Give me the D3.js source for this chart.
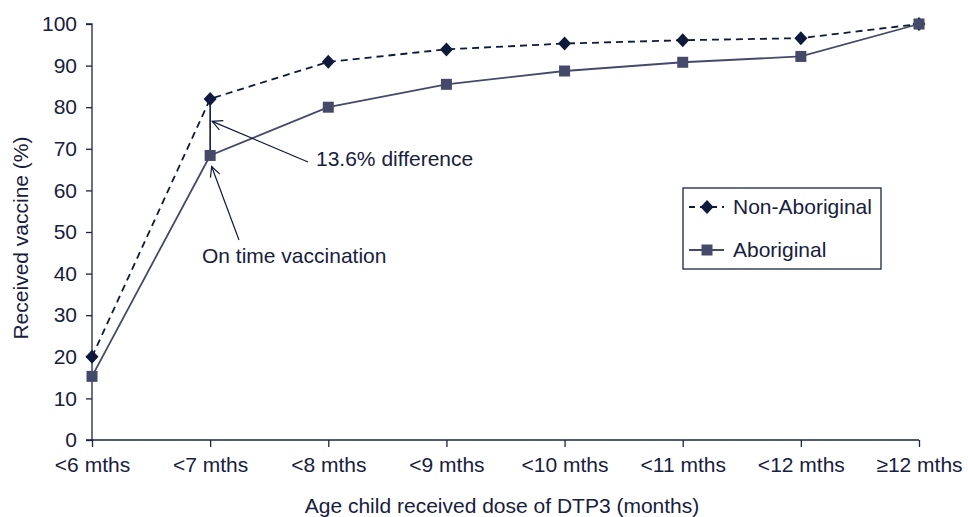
<!DOCTYPE html>
<html><head><meta charset="utf-8">
<script src="https://cdn.jsdelivr.net/npm/d3@7"></script>
<style>body{margin:0;background:#fff}svg{display:block}text{font-family:"Liberation Sans",Arial,sans-serif;fill:#17203d}</style>
</head><body><div id="chart"></div>
<script>
const categories = ["<6 mths","<7 mths","<8 mths","<9 mths","<10 mths","<11 mths","<12 mths","\u226512 mths"];
const nonAboriginal = [20.0, 82.0, 90.9, 93.9, 95.3, 96.1, 96.6, 100];
const aboriginal = [15.3, 68.4, 80.0, 85.5, 88.7, 90.8, 92.2, 100];
const yTicks = [0,10,20,30,40,50,60,70,80,90,100];

const W = 968, H = 517;
const m = {left: 92, right: 49, top: 24, bottom: 77};
const FS = "21px";
const svg = d3.select("#chart").append("svg").attr("width", W).attr("height", H);
const x = d3.scalePoint().domain(categories).range([m.left, W - m.right]);
const y = d3.scaleLinear().domain([0, 100]).range([H - m.bottom, m.top]);
const navy = "#0e1a3c", grey = "#454a6a", axisC = "#1a2545";

const defs = svg.append("defs");
defs.append("marker").attr("id","arr").attr("viewBox","0 0 12 12").attr("refX",11).attr("refY",6)
  .attr("markerWidth",12).attr("markerHeight",12).attr("markerUnits","userSpaceOnUse").attr("orient","auto")
  .append("path").attr("d","M1,1 L11,6 L1,11").attr("fill","none").attr("stroke",navy).attr("stroke-width",1.2);

// axes
const yAxis = svg.append("g").attr("transform",`translate(${m.left},0)`)
  .call(d3.axisLeft(y).tickValues(yTicks).tickSize(6).tickPadding(9));
const xAxis = svg.append("g").attr("transform",`translate(0,${H - m.bottom})`)
  .call(d3.axisBottom(x).tickSize(7).tickPadding(10).tickSizeOuter(0));
[yAxis, xAxis].forEach(g => {
  g.select(".domain").attr("stroke", axisC).attr("stroke-width", 1.3);
  g.selectAll(".tick line").attr("stroke", axisC).attr("stroke-width", 1.3);
  g.selectAll(".tick text").attr("fill", "#17203d").style("font-size", FS).style("font-family", '"Liberation Sans",Arial,sans-serif');
});
yAxis.select(".domain").attr("d", `M-6,${y(0)}H0V${y(100)}H-6`);
xAxis.select(".domain").attr("d", `M${m.left},0H${W - m.right}`);

// axis titles
svg.append("text").attr("transform",`translate(28,${(y(0)+y(100))/2 + 6}) rotate(-90)`).attr("text-anchor","middle")
  .style("font-size",FS).text("Received vaccine (%)");
svg.append("text").attr("x", 502).attr("y", 513).attr("text-anchor","middle")
  .style("font-size",FS).text("Age child received dose of DTP3 (months)");

// lines
const line = d3.line().x((d,i)=>x(categories[i])).y(d=>y(d));
svg.append("path").datum(aboriginal).attr("d", line).attr("fill","none").attr("stroke", grey).attr("stroke-width",1.8);
svg.append("path").datum(nonAboriginal).attr("d", line).attr("fill","none").attr("stroke", navy).attr("stroke-width",1.8).attr("stroke-dasharray","7,5");

// difference line
svg.append("line").attr("x1", x(categories[1])).attr("x2", x(categories[1]))
  .attr("y1", y(nonAboriginal[1])).attr("y2", y(aboriginal[1])).attr("stroke", navy).attr("stroke-width",1.6);

const diamondPath = "M0,-7L6.5,0L0,7L-6.5,0Z";
svg.selectAll(".dm").data(nonAboriginal).enter().append("path")
  .attr("d", diamondPath).attr("transform",(d,i)=>`translate(${x(categories[i])},${y(d)})`).attr("fill",navy);
svg.selectAll(".sq").data(aboriginal).enter().append("rect")
  .attr("x",(d,i)=>x(categories[i])-5.5).attr("y",d=>y(d)-5.5).attr("width",11).attr("height",11).attr("fill",grey);

// annotations
const cx = x(categories[1]);
svg.append("line").attr("x1",308).attr("y1",162).attr("x2",cx+2).attr("y2",y(nonAboriginal[1]-5.4))
  .attr("stroke",navy).attr("stroke-width",1.2).attr("marker-end","url(#arr)");
svg.append("text").attr("x",316).attr("y",166).style("font-size",FS).text("13.6% difference");
svg.append("line").attr("x1",239).attr("y1",240).attr("x2",cx+1.5).attr("y2",y(aboriginal[1])+11)
  .attr("stroke",navy).attr("stroke-width",1.2).attr("marker-end","url(#arr)");
svg.append("text").attr("x",202).attr("y",263).style("font-size",FS).text("On time vaccination");

// legend
const lg = svg.append("g");
lg.append("rect").attr("x",683).attr("y",188).attr("width",198).attr("height",81).attr("fill","#fff").attr("stroke",axisC).attr("stroke-width",1.3);
lg.append("line").attr("x1",689).attr("x2",724).attr("y1",207).attr("y2",207).attr("stroke",navy).attr("stroke-width",1.8).attr("stroke-dasharray","6,5");
lg.append("path").attr("d",diamondPath).attr("transform","translate(707,207)").attr("fill",navy);
lg.append("text").attr("x",733).attr("y",214).style("font-size",FS).text("Non-Aboriginal");
lg.append("line").attr("x1",689).attr("x2",724).attr("y1",250).attr("y2",250).attr("stroke",grey).attr("stroke-width",1.8);
lg.append("rect").attr("x",701.5).attr("y",244.5).attr("width",11).attr("height",11).attr("fill",grey);
lg.append("text").attr("x",733).attr("y",257).style("font-size",FS).text("Aboriginal");
</script></body></html>
